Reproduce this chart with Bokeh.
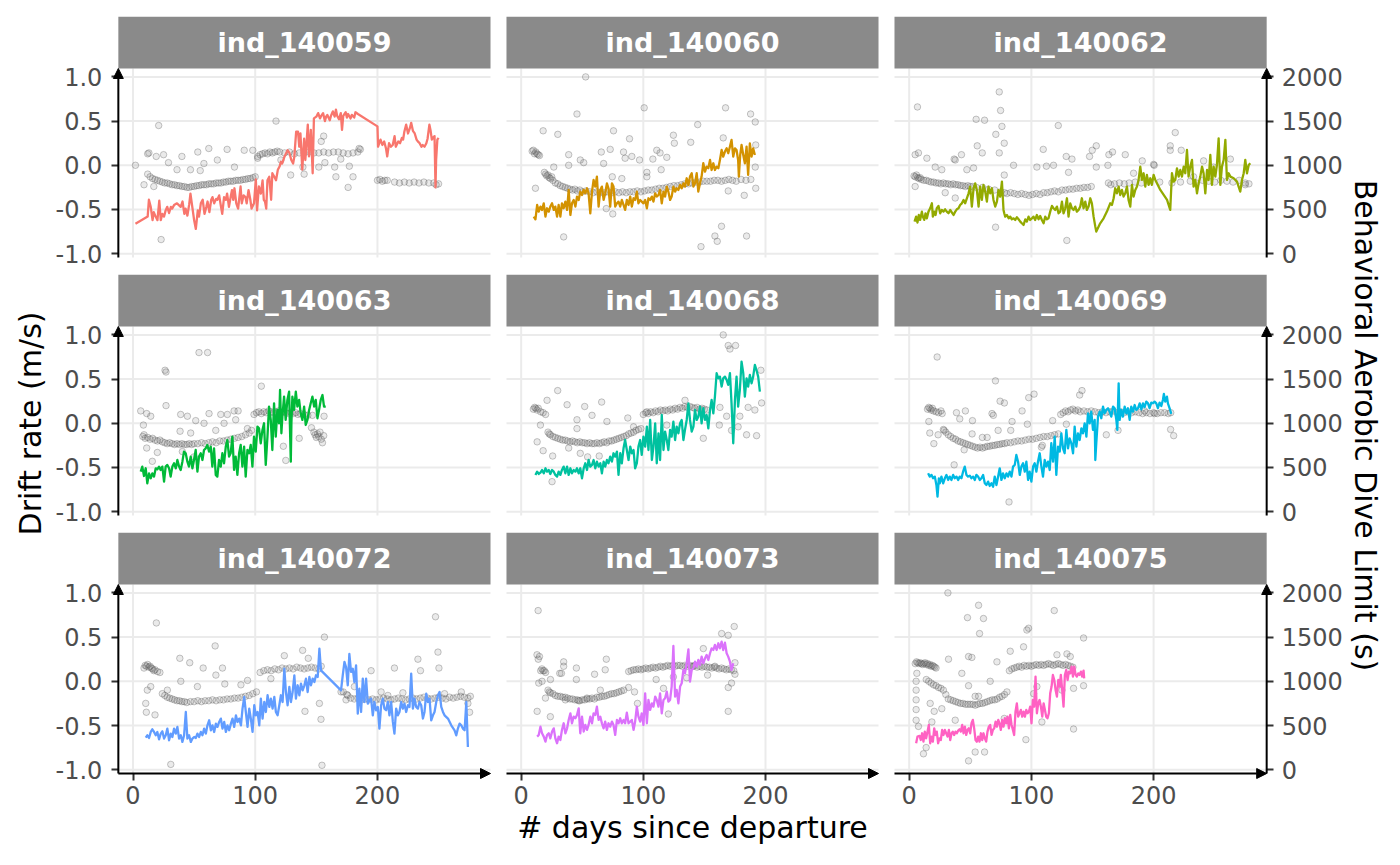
import math
from bokeh.plotting import figure
from bokeh.layouts import column, row
from bokeh.models import (Range1d, LinearAxis, FixedTicker, BoxAnnotation, Label,
                          Arrow, NormalHead, CustomJSTickFormatter)
from bokeh.embed import file_html
from bokeh.resources import INLINE

# ---------------- data ----------------
individuals = ["ind_140059", "ind_140060", "ind_140062",
               "ind_140063", "ind_140068", "ind_140069",
               "ind_140072", "ind_140073", "ind_140075"]
line_colors = ["#F8766D", "#D39200", "#93AA00", "#00BA38", "#00C19F",
               "#00B9E3", "#619CFF", "#DB72FB", "#FF61C3"]

x_ticks = [0, 100, 200]
drift_ticks = [-1.0, -0.5, 0.0, 0.5, 1.0]
badl_ticks = [0, 500, 1000, 1500, 2000]

# drift rate (m/s) points: (days since departure, drift rate)
p59_pts = [(12,-0.10),(14,-0.13),(16,-0.15),(18,-0.16),(20,-0.17),(22,-0.18),(24,-0.19),(26,-0.20),(28,-0.20),(30,-0.21),(32,-0.22),(34,-0.22),(36,-0.23),(38,-0.23),(40,-0.24),(42,-0.24),(44,-0.25),(46,-0.25),(48,-0.24),(50,-0.24),(52,-0.23),(54,-0.23),(56,-0.22),(58,-0.22),(60,-0.22),(62,-0.21),(64,-0.21),(66,-0.21),(68,-0.20),(70,-0.20),(72,-0.20),(74,-0.19),(76,-0.19),(78,-0.18),(80,-0.18),(82,-0.18),(84,-0.17),(86,-0.17),(88,-0.17),(90,-0.16),(92,-0.16),(94,-0.15),(96,-0.15),(98,-0.14),(100,-0.13),
           (102,0.10),(104,0.12),(106,0.13),(108,0.14),(110,0.13),(112,0.15),(114,0.14),(116,0.15),(118,0.16),(120,0.15),(124,0.14),(128,0.15),(132,0.13),(136,0.14),(140,0.14),(144,0.15),(148,0.14),(152,0.14),(156,0.15),(160,0.14),(164,0.15),(168,0.15),(172,0.14),(176,0.13),(180,0.14),(184,0.15),(186,0.18),
           (200,-0.17),(202,-0.16),(204,-0.18),(206,-0.17),(208,-0.17),(214,-0.19),(218,-0.20),(222,-0.19),(226,-0.20),(230,-0.19),(234,-0.20),(238,-0.19),(242,-0.20),(246,-0.20),(248,-0.22),(250,-0.21),
           (2,0.00),(12,0.13),(13,0.14),(21,0.45),(23,-0.84),(25,0.12),(29,0.03),(40,0.10),(53,0.15),(62,0.19),(77,0.18),(91,0.17),(98,0.17),(117,0.50),(121,0.06),(129,-0.11),(140,-0.10),(154,0.27),(156,0.33),(157,0.03),(165,-0.02),(166,-0.13),(176,-0.25),(177,-0.01),(180,-0.13),(185,0.19),(17,-0.24),(9,-0.22),(36,-0.05),(47,-0.05),(55,-0.06),(58,0.02),(69,0.06),(83,-0.02),(102,0.08),(139,-0.02),(152,-0.02),(170,0.07),(19,0.10)]

p60_pts = [(9,0.16),(10,0.17),(11,0.13),(12,0.15),(13,0.13),(14,0.12),(15,0.11),(19,-0.08),(20,-0.10),(21,-0.12),(22,-0.11),(23,-0.14),(24,-0.15),(25,-0.13),(26,-0.17),(28,-0.20),(30,-0.21),(32,-0.23),(34,-0.24),(36,-0.25),(38,-0.26),(40,-0.27),(42,-0.28),(44,-0.27),(46,-0.29),(48,-0.28),(50,-0.30),(53,-0.29),(56,-0.30),(59,-0.31),(62,-0.30),(65,-0.31),(68,-0.31),(71,-0.30),(74,-0.31),(77,-0.30),(80,-0.31),(83,-0.30),(86,-0.31),(89,-0.30),(92,-0.30),(95,-0.29),(98,-0.30),(101,-0.29),(104,-0.28),(107,-0.28),(110,-0.27),(113,-0.26),(116,-0.26),(119,-0.25),(122,-0.24),(125,-0.23),(128,-0.23),(131,-0.22),(134,-0.21),(137,-0.21),(140,-0.20),(143,-0.19),(146,-0.19),(149,-0.18),(152,-0.18),(155,-0.18),(158,-0.17),(161,-0.17),(164,-0.18),(167,-0.17),(170,-0.16),(173,-0.17),(176,-0.18),(180,-0.16),(184,-0.17),(188,-0.16),
           (52.8,1.00),(45.7,0.58),(100.7,0.65),(18,0.39),(30,0.35),(75.6,0.39),(88.7,0.30),(124.6,0.34),(125.4,0.25),(138.8,0.26),(144.5,0.46),(167.3,0.65),(187.8,0.58),(191.6,0.49),(165.4,0.31),(192,0.23),(191.6,-0.02),(192,-0.26),(182.6,-0.34),(169.5,-0.29),(164,-0.69),(158.6,-0.80),(160.5,-0.86),(147.2,-0.92),(184.5,-0.80),(34.8,-0.81),(11.7,-0.26),(26.7,-0.02),(38.9,0.12),(48.4,0.06),(65.6,0.15),(72.9,0.18),(83.8,0.15),(85.1,0.08),(90.6,0.10),(96.9,0.06),(102.9,-0.08),(102.9,-0.13),(107.8,0.07),(111,0.17),(113.7,0.14),(119.2,0.09),(114.6,-0.05),(74.6,-0.13),(82.4,-0.15),(69.7,-0.49),(75,-0.55),(38.9,0.00),(67.5,0.02),(51.2,0.03)]

p62_pts = [(4,-0.12),(5,-0.13),(6,-0.11),(7,-0.14),(8,-0.15),(9,-0.14),(10,-0.16),(12,-0.17),(14,-0.17),(16,-0.18),(18,-0.19),(20,-0.19),(22,-0.20),(24,-0.20),(26,-0.21),(28,-0.20),(30,-0.21),(32,-0.21),(34,-0.22),(36,-0.21),(38,-0.22),(40,-0.22),(42,-0.23),(44,-0.23),(46,-0.24),(48,-0.23),(50,-0.24),(52,-0.24),(55,-0.25),(60,-0.25),(65,-0.27),(70,-0.28),(75,-0.30),(78,-0.31),(80,-0.32),(83,-0.31),(86,-0.32),(89,-0.33),(92,-0.32),(95,-0.33),(98,-0.34),(101,-0.33),(104,-0.32),(107,-0.33),(110,-0.31),(113,-0.31),(116,-0.30),(119,-0.29),(122,-0.30),(125,-0.28),(128,-0.28),(131,-0.27),(134,-0.27),(137,-0.26),(140,-0.26),(143,-0.25),(146,-0.25),(149,-0.24),(163,-0.20),(165,-0.22),(168,-0.21),(172,-0.20),(176,-0.21),(180,-0.20),(185,-0.19),(190,-0.20),(196,-0.18),(205,-0.19),(215,-0.20),(222,-0.19),(230,-0.18),(235,-0.20),(240,-0.17),(245,-0.18),(250,-0.19),(255,-0.17),(260,-0.18),(265,-0.19),(270,-0.17),(275,-0.20),(278,-0.21),
           (6.8,0.66),(73.7,0.83),(74.8,0.62),(54.8,0.52),(61.7,0.51),(70.9,0.35),(75.9,0.44),(77.8,0.25),(73.7,0.14),(55.7,0.22),(59.8,0.14),(42.8,0.12),(36.8,0.07),(122,0.45),(109.7,0.18),(128.5,0.10),(133.2,0.07),(147.6,0.10),(149.8,0.17),(153.1,0.22),(153.1,-0.02),(163.4,0.12),(166.4,0.15),(176.8,0.12),(190.7,0.05),(200.5,0.00),(213.6,0.22),(217.7,0.37),(222.6,0.17),(213.6,0.17),(240.9,0.05),(262.8,0.07),(70.7,-0.70),(129,-0.85),(77.8,-0.11),(85.4,0.00),(104.5,-0.02),(112.3,-0.01),(118.1,0.00),(130.4,-0.08),(162.6,0.00),(183.6,-0.09),(200,0.01),(37.7,0.06),(4.9,-0.24),(4.9,0.12),(7.6,0.14),(14.5,0.08),(21.3,-0.02),(26.7,-0.05),(47.2,-0.05),(52.7,-0.03),(37.7,-0.37),(29.5,-0.31),(275,-0.22),(249,-0.02),(232.7,-0.13)]

p63_pts = [(8,-0.15),(9,-0.13),(10,-0.17),(12,-0.16),(14,-0.18),(16,-0.17),(18,-0.19),(20,-0.20),(22,-0.19),(24,-0.21),(26,-0.22),(28,-0.23),(30,-0.22),(32,-0.23),(34,-0.24),(36,-0.23),(38,-0.24),(40,-0.23),(42,-0.24),(44,-0.24),(46,-0.23),(48,-0.24),(50,-0.23),(53,-0.23),(56,-0.22),(59,-0.23),(62,-0.22),(65,-0.21),(68,-0.22),(71,-0.20),(74,-0.20),(77,-0.19),(80,-0.18),(83,-0.17),(86,-0.16),(89,-0.15),(92,-0.13),(95,-0.11),(97,-0.08),(99,0.10),(101,0.12),(103,0.13),(105,0.11),(107,0.13),(109,0.12),(111,0.14),(113,0.13),(115,0.12),(117,0.13),(119,0.14),(121,0.12),(123,0.13),(125,0.12),(127,0.11),(129,0.12),(131,0.11),(133,0.12),(135,0.10),(137,0.11),(140,0.10),(143,0.09),(146,-0.05),(148,-0.10),(149,-0.13),(150,-0.16),(151,-0.12),(152,-0.15),(153,-0.10),(154,-0.18),(155,-0.22),(156,-0.14),
           (54,0.80),(61,0.80),(26.2,0.60),(27,0.58),(27,0.20),(6.3,0.14),(11.2,0.11),(14.5,0.08),(39,0.10),(44.5,0.08),(62.2,0.11),(71.8,0.10),(77.2,0.10),(82.7,0.14),(86,0.14),(105,0.42),(8.5,-0.02),(19.9,-0.33),(15.8,-0.43),(11.2,-0.28),(51.3,0.03),(58.1,0.00),(67.7,-0.08),(74.5,0.00),(84,0.04),(93.6,-0.06),(38.5,-0.09),(47.2,-0.11),(123,-0.26),(125,-0.42),(136,-0.17),(156.3,0.08),(146.8,0.09),(40.4,-0.32),(49.9,-0.38)]

p68_pts = [(10,0.16),(11,0.18),(12,0.17),(13,0.15),(14,0.17),(16,0.13),(18,0.12),(20,0.10),(22,-0.10),(23,-0.12),(24,-0.13),(26,-0.15),(28,-0.16),(30,-0.17),(32,-0.18),(34,-0.19),(36,-0.19),(38,-0.20),(40,-0.21),(42,-0.20),(44,-0.21),(46,-0.22),(48,-0.21),(50,-0.22),(52,-0.22),(54,-0.23),(56,-0.22),(58,-0.23),(60,-0.23),(62,-0.22),(64,-0.23),(66,-0.22),(68,-0.21),(70,-0.22),(72,-0.20),(74,-0.20),(76,-0.19),(78,-0.18),(80,-0.17),(82,-0.16),(84,-0.15),(86,-0.14),(88,-0.12),(90,-0.11),(92,-0.10),(94,-0.08),(96,-0.07),(98,-0.06),(100,0.10),(102,0.12),(104,0.11),(106,0.13),(108,0.12),(110,0.14),(112,0.13),(114,0.15),(116,0.14),(118,0.15),(120,0.14),(122,0.16),(124,0.15),(126,0.17),(128,0.16),(130,0.18),(132,0.17),(134,0.19),(136,0.18),(138,0.19),(140,0.18),(142,0.17),(144,0.18),(146,0.16),(148,0.17),(150,0.16),(152,0.15),
           (165.4,1.00),(169.5,0.88),(170.9,0.84),(175.5,0.88),(196.2,0.60),(29.9,0.37),(21.2,0.26),(37.6,0.21),(52,0.19),(65.9,0.24),(58,0.09),(45.7,0.04),(15.8,-0.02),(13.1,-0.21),(18,-0.31),(25.3,-0.66),(25.8,-0.37),(48.4,-0.34),(54.4,-0.38),(63.9,-0.37),(38.9,-0.28),(45.7,-0.06),(70.2,0.02),(87.3,0.06),(92,-0.04),(102.9,0.13),(119.2,-0.02),(134.1,0.26),(149.1,-0.17),(162.2,-0.02),(168.2,0.08),(172.2,-0.08),(177.6,-0.04),(184.5,-0.13),(185.8,0.18),(192.7,-0.14),(196.8,0.23),(191.3,0.15),(179,0.08),(162.7,0.18)]

p69_pts = [(15,0.16),(16,0.18),(17,0.17),(18,0.15),(19,0.17),(20,0.14),(22,0.13),(24,0.12),(26,0.14),(27,0.11),(28,-0.07),(30,-0.10),(32,-0.13),(34,-0.15),(36,-0.17),(38,-0.18),(40,-0.20),(42,-0.21),(44,-0.22),(46,-0.23),(48,-0.24),(50,-0.25),(52,-0.26),(54,-0.27),(56,-0.28),(58,-0.27),(60,-0.28),(62,-0.27),(64,-0.26),(66,-0.26),(68,-0.25),(70,-0.25),(72,-0.24),(74,-0.24),(76,-0.23),(78,-0.23),(80,-0.22),(83,-0.22),(86,-0.21),(89,-0.20),(92,-0.20),(95,-0.19),(98,-0.18),(101,-0.18),(104,-0.17),(107,-0.16),(110,-0.15),(113,-0.15),(116,-0.14),(119,-0.13),(122,-0.12),(124,0.10),(126,0.12),(128,0.14),(130,0.13),(132,0.15),(134,0.16),(136,0.14),(138,0.15),(140,0.13),(143,0.14),(146,0.13),(149,0.14),(152,0.13),(155,0.12),(158,0.13),(161,0.12),(164,0.13),(167,0.14),(170,0.12),(173,0.13),(176,0.12),(179,0.13),(182,0.12),(185,0.13),(188,0.12),(191,0.11),(194,0.12),(197,0.11),(200,0.12),(203,0.11),(206,0.12),(209,0.12),(212,0.11),(214,0.12),
           (22.9,0.75),(70.6,0.48),(74.4,0.25),(77.9,0.23),(97.8,0.29),(102.2,0.33),(139.5,0.32),(141.4,0.37),(46,0.14),(38.7,0.12),(41.4,0.05),(51.8,0.03),(67.8,0.11),(68.9,0.09),(92.4,0.14),(84.2,0.02),(96.7,-0.01),(117.4,0.03),(128.6,-0.01),(16.1,0.02),(16.9,-0.11),(20.2,-0.23),(23.7,-0.13),(28.6,-0.08),(36.8,-0.47),(81.7,-0.89),(45,-0.30),(51.5,-0.12),(59.9,-0.16),(63.8,-0.16),(72.8,-0.08),(83.1,-0.08),(108.2,-0.27),(109,-0.25),(161.3,-0.13),(170.9,-0.08),(213.9,-0.07),(216.4,-0.14),(200.8,0.11),(192.6,0.14)]

p72_pts = [(9,0.15),(10,0.18),(11,0.17),(12,0.19),(13,0.16),(14,0.17),(15,0.15),(16,0.14),(17,0.12),(18,0.13),(20,0.11),(22,0.10),(24,-0.14),(26,-0.16),(28,-0.18),(30,-0.19),(32,-0.20),(34,-0.21),(36,-0.22),(38,-0.22),(40,-0.23),(42,-0.23),(44,-0.24),(47,-0.23),(50,-0.23),(53,-0.22),(56,-0.23),(59,-0.22),(62,-0.22),(65,-0.21),(68,-0.22),(71,-0.21),(74,-0.21),(77,-0.20),(80,-0.20),(83,-0.19),(86,-0.19),(89,-0.18),(92,-0.17),(95,-0.16),(98,-0.14),(101,-0.12),(104,0.10),(107,0.12),(110,0.13),(113,0.12),(116,0.14),(119,0.13),(122,0.15),(125,0.14),(128,0.15),(131,0.14),(134,0.16),(137,0.15),(140,0.14),(143,0.15),(146,0.16),(149,0.15),(152,0.14),(154,0.17),(172,-0.12),(175,-0.15),(178,-0.19),(181,-0.20),(184,-0.19),(187,-0.21),(190,-0.20),(193,-0.21),(196,-0.20),(199,-0.21),(202,-0.20),(205,-0.19),(208,-0.20),(211,-0.21),(214,-0.20),(217,-0.19),(220,-0.20),(223,-0.21),(226,-0.20),(229,-0.19),(232,-0.20),(235,-0.19),(238,-0.18),(241,-0.19),(244,-0.20),(247,-0.19),(250,-0.18),(253,-0.19),(256,-0.20),(259,-0.18),(262,-0.19),(265,-0.18),(268,-0.17),(271,-0.18),(274,-0.19),(276,-0.17),
           (19.1,0.66),(67.2,0.40),(38.3,0.26),(46.4,0.21),(57.4,0.15),(73.2,0.15),(67.8,0.07),(75.1,-0.03),(88.3,-0.04),(93.7,0.01),(112.8,0.03),(123.8,0.29),(138.8,0.35),(143.4,0.26),(156.6,0.50),(152.5,-0.25),(153.8,-0.43),(154.6,-0.95),(30.9,-0.94),(18,-0.38),(10.9,-0.35),(10.4,-0.25),(11.7,-0.10),(14.5,-0.06),(28.1,-0.10),(39.1,0.00),(52.7,-0.06),(140.7,-0.34),(170.2,-0.12),(174.3,-0.21),(175.7,-0.16),(181.1,-0.06),(194.8,0.12),(203,-0.12),(213.9,0.15),(220.8,-0.13),(233.1,0.25),(235.2,0.12),(247.5,0.73),(249.5,0.33),(250.3,0.15),(275.4,-0.35),(274,-0.25),(268.6,-0.12),(208.5,-0.16),(254.9,-0.14)]

p73_pts = [(13,0.30),(14,0.25),(15,0.28),(16,0.12),(17,0.14),(18,0.12),(19,0.12),(20,0.10),(22,-0.10),(23,-0.12),(24,-0.13),(26,-0.14),(28,-0.16),(30,-0.17),(32,-0.17),(34,-0.18),(36,-0.18),(38,-0.19),(40,-0.20),(42,-0.20),(44,-0.21),(46,-0.21),(48,-0.22),(50,-0.21),(52,-0.21),(54,-0.20),(56,-0.20),(58,-0.19),(60,-0.20),(62,-0.18),(64,-0.18),(66,-0.17),(68,-0.17),(70,-0.16),(72,-0.15),(74,-0.14),(76,-0.14),(78,-0.13),(80,-0.12),(82,-0.11),(84,-0.10),(88,0.11),(90,0.12),(92,0.13),(94,0.13),(96,0.14),(98,0.13),(100,0.14),(102,0.15),(104,0.14),(106,0.15),(108,0.16),(110,0.15),(112,0.16),(114,0.17),(116,0.16),(118,0.17),(120,0.18),(122,0.17),(124,0.18),(126,0.17),(128,0.18),(130,0.18),(132,0.17),(134,0.18),(136,0.17),(138,0.18),(140,0.17),(142,0.18),(144,0.16),(146,0.17),(148,0.16),(150,0.17),(152,0.16),(154,0.16),(156,0.15),(158,0.16),(160,0.15),(162,0.14),(164,0.15),(166,0.14),(168,0.13),(170,0.14),(172,0.13),(174,0.12),
           (13.9,0.80),(13.1,-0.34),(23.9,-0.40),(19.9,-0.19),(14.4,-0.02),(17.1,0.00),(24,0.02),(34.8,0.22),(34.8,0.17),(31.6,0.09),(33,0.09),(45.2,0.15),(45.2,0.02),(60.1,0.08),(69.7,0.25),(68.8,0.13),(36.2,-0.21),(47.1,-0.22),(53.9,-0.19),(64.8,-0.10),(87.9,-0.07),(92.8,-0.12),(95.2,-0.25),(110.5,0.02),(116.5,-0.08),(120.5,-0.37),(124.6,0.05),(135.5,0.04),(149.1,0.37),(152.6,0.07),(164.1,0.54),(169.5,0.52),(174.4,0.62),(175,0.21),(175,0.08),(172.2,-0.02),(169.5,-0.07),(169.5,-0.34),(158.6,0.17),(141,0.17)]

p75_pts = [(5,0.20),(6,0.22),(7,0.21),(8,0.20),(9,0.21),(10,0.20),(11,0.19),(12,0.20),(13,0.21),(14,0.19),(15,0.20),(16,0.18),(17,0.19),(18,0.17),(19,0.18),(20,0.17),(21,0.16),(22,0.15),(14,0.02),(16,0.00),(18,-0.02),(20,-0.04),(22,-0.05),(24,-0.07),(26,-0.08),(28,-0.10),(30,-0.15),(32,-0.20),(34,-0.21),(36,-0.22),(38,-0.23),(40,-0.24),(42,-0.25),(44,-0.25),(46,-0.26),(48,-0.26),(50,-0.26),(52,-0.26),(54,-0.27),(56,-0.26),(58,-0.25),(60,-0.25),(62,-0.24),(64,-0.23),(66,-0.22),(68,-0.21),(70,-0.21),(72,-0.20),(74,-0.18),(76,-0.17),(78,-0.15),(80,-0.12),(82,0.12),(84,0.14),(86,0.15),(88,0.16),(90,0.17),(92,0.16),(94,0.18),(96,0.17),(98,0.18),(100,0.17),(102,0.18),(104,0.19),(106,0.18),(108,0.19),(110,0.18),(112,0.19),(114,0.20),(116,0.19),(118,0.18),(120,0.19),(122,0.20),(124,0.19),(126,0.18),(128,0.19),(130,0.18),(132,0.17),(134,0.16),
           (31.7,1.00),(56.8,0.86),(47.7,0.72),(60.8,0.71),(57.6,0.54),(118.7,0.80),(96.3,0.58),(97.7,0.60),(142.7,0.49),(82.7,0.34),(93.6,0.39),(32.2,0.25),(51.3,0.27),(48.6,0.28),(71.8,0.22),(129.1,0.31),(131.8,0.28),(120.9,0.30),(6.3,0.09),(5.7,0.00),(5.7,-0.10),(5.7,-0.21),(5.7,-0.32),(5.7,-0.44),(7.6,-0.51),(11.7,-0.82),(13.9,-0.75),(18.6,-0.46),(20.5,-0.34),(17.2,-0.25),(26.7,-0.31),(37.7,-0.44),(48.6,-0.90),(54,-0.80),(61.7,-0.80),(95.5,-0.66),(134.5,-0.54),(108.6,-0.46),(54,-0.17),(56.8,-0.17),(77.8,-0.42),(104.5,-0.06),(101.8,-0.14),(125,-0.10),(134.5,-0.08),(142.7,-0.05),(48.6,-0.05),(66.3,0.00),(43.1,0.09)]

# behavioral aerobic dive limit (s): (days since departure, BADL)
p59_line = [(2,340),(12,420),(13,610),(14.5,530),(16,380),(17,470),(18.5,420),(20,380),(21.5,600),(22.7,380),(24,450),(25.4,420),(26.7,490),(28,530),(29.5,460),(31,530),(32,510),(33.6,550),(36,570),(39,530),(40.5,590),(42,450),(43,510),(44.5,430),(46,560),(47,680),(48.5,530),(50,380),(51.4,280),(53,490),(54,420),(55.5,570),(57,610),(58.5,450),(60,530),(61,590),(62.5,470),(64,610),(65,640),(66.4,570),(68,620),(69,610),(70.5,660),(72,530),(73,450),(74.5,640),(76,610),(77,680),(78.5,530),(80,650),(81,720),(82,610),(83,740),(84.5,570),(86,510),(88,760),(89,570),(90.5,660),(92,640),(93,570),(94.5,720),(96,610),(97,510),(99,570),(100.5,840),(101.5,490),(103,760),(104.6,680),(106,830),(107,610),(108,590),(109,510),(110,830),(111.5,870),(113,610),(114,910),(115.6,870),(117,830),(118.5,950),(120,990),(121,1040),(122,1020),(124,1100),(126.5,1170),(128,1140),(129.5,1060),(131,1020),(132,1100),(133.5,1380),(135,1380),(136,1210),(137,1360),(138.5,950),(140,1300),(141,1060),(143,1460),(144,1100),(145.5,1400),(147,910),(148,1530),(150,1550),(151.5,1590),(153,1530),(154,1560),(155.5,1590),(157,1500),(158,1550),(159,1570),(161,1510),(162,1560),(163.5,1610),(165,1550),(166,1630),(167,1560),(168.5,1520),(170,1590),(171,1400),(172,1560),(174,1600),(175,1540),(176,1580),(178,1530),(179,1570),(181,1540),(182,1600),(184,1580),(200,1440),(200.5,1210),(202.5,1290),(204,1230),(205.5,1270),(207,1190),(208,1100),(209.5,1250),(211,1210),(212.5,1230),(214,1330),(215,1210),(217,1270),(218.5,1250),(220,1310),(221,1290),(222,1380),(223.5,1460),(225,1360),(226.5,1420),(227.6,1480),(229,1390),(230.5,1360),(232,1290),(233,1270),(234.5,1250),(236,1210),(237,1230),(238.5,1210),(240,1250),(241,1300),(242.5,1460),(243.5,1390),(244.5,1290),(246,1320),(246.7,1330),(247.5,750),(248,1060),(249,1290),(250,1310)]

p60_line = [(10.3,420),(11.7,389),(13.1,551),(14.4,476),(15.8,533),(17.1,495),(18.5,570),(19.9,419),(21.2,514),(22.6,476),(23.9,533),(25.3,570),(26.7,495),(28,533),(29.4,419),(30.7,551),(32.1,419),(33.4,570),(34.8,514),(36.2,589),(37.6,495),(38.9,721),(40.3,438),(41.6,570),(43,608),(44.4,533),(45.7,646),(47.1,608),(48.4,702),(49.8,664),(51.2,721),(52.5,683),(53.9,740),(55.2,683),(56.6,457),(58,702),(59.3,834),(60.7,759),(62,872),(63.4,533),(64.8,721),(66.1,759),(67.5,608),(68.8,683),(70.2,796),(71.5,740),(72.9,533),(74.3,796),(75.6,759),(77,533),(78.4,570),(79.7,589),(81.1,533),(82.4,608),(83.8,551),(85.1,495),(86.5,608),(87.9,551),(89.3,646),(90.6,533),(92,627),(93.3,608),(94.7,702),(96,570),(97.4,608),(98.7,589),(100.1,570),(101.5,608),(102.9,514),(104.2,627),(105.6,608),(107,646),(108.3,589),(109.7,683),(111,646),(112.4,664),(113.7,721),(115.1,570),(116.5,702),(117.8,646),(119.2,759),(120.5,702),(121.9,608),(123.2,646),(124.6,759),(126,702),(127.3,740),(128.7,721),(130.1,778),(131.4,740),(132.8,796),(134.1,759),(135.5,853),(136.9,778),(138.2,872),(139.6,910),(141,759),(142.3,796),(143.7,910),(145,702),(146.4,796),(147.7,872),(149.1,1023),(150.5,928),(151.8,985),(153.2,966),(154.6,1060),(155.9,947),(157.3,1023),(158.6,947),(160,985),(161.4,966),(162.7,1060),(164.1,1173),(165.4,1098),(166.8,1155),(168.2,1192),(169.5,1136),(170.9,1211),(172.2,1287),(173.6,1098),(175,1192),(176.3,1173),(177.6,1060),(178.2,872),(179.3,1117),(180.4,1230),(181.8,1117),(183.1,1023),(184.5,1211),(185.8,891),(187.2,1249),(188.6,1098),(189.9,1192),(191.3,1117)]

p62_line = [(4.4,363),(5.7,419),(6.8,352),(7.9,438),(9,382),(10.4,476),(11.2,419),(12.3,382),(13.4,457),(14.5,400),(15.8,476),(17.2,514),(18.6,570),(19.4,419),(20.5,476),(21.6,438),(22.6,514),(24,540),(25.4,457),(26.7,495),(28.1,476),(29.4,502),(30.8,476),(32.2,457),(33.6,495),(35,465),(36.3,438),(37.7,476),(39,502),(40.4,514),(41.7,551),(43.1,570),(44.5,608),(45.8,570),(47.2,627),(48.6,683),(49.9,759),(51.3,533),(52.7,740),(54,796),(55.4,721),(56.8,533),(58.1,759),(59.5,608),(60.8,778),(62.2,702),(63.6,589),(64.9,759),(66.3,683),(67.7,740),(69,608),(70.4,533),(71.8,589),(73.1,721),(74.5,646),(75.9,815),(77.2,495),(77.8,457),(78.6,419),(80,438),(81.4,400),(82.7,419),(84,389),(85.4,400),(86.8,382),(88.1,412),(89.5,389),(90.9,363),(92.2,344),(93.6,325),(95,389),(96.3,363),(97.7,419),(99,382),(100.4,400),(101.8,419),(103.1,382),(104.5,438),(105.9,389),(107.2,427),(108.6,382),(110,344),(111.3,419),(112.7,389),(114,400),(115.4,476),(116.8,540),(118.1,514),(119.5,495),(120.9,533),(122.2,457),(123.6,476),(125,589),(126.3,457),(127.7,514),(129.1,627),(130.4,419),(131.8,570),(133.2,514),(134.5,495),(135.9,533),(137.2,476),(138.6,495),(140,533),(141.3,627),(142.7,514),(144.1,589),(145.4,495),(146.8,533),(148.2,627),(149.5,570),(150.9,419),(152.3,306),(153.1,250),(156.3,344),(159.1,400),(161.8,476),(164.5,570),(165.9,551),(167.3,627),(168.6,740),(170,683),(171.4,759),(172.7,664),(174.1,721),(175.4,646),(176.8,683),(178.2,759),(179.5,608),(180.9,533),(182.3,778),(183.6,646),(185,721),(186.4,759),(187.7,834),(189.1,985),(190.4,834),(191.8,910),(193.2,759),(194.5,891),(195.9,778),(197.3,853),(198.6,778),(200,891),(201.4,834),(205.5,721),(211,608),(213.6,495),(215,910),(216.4,815),(217.7,834),(219.1,966),(220.5,872),(221.8,947),(223.2,872),(224.6,985),(225.9,910),(227.3,1173),(228.6,872),(230,985),(231.4,1060),(232.7,759),(234.1,834),(235.5,683),(236.8,796),(238.2,872),(239.6,985),(240.9,910),(242.3,683),(243.7,947),(245,834),(246.4,1117),(247.7,778),(249.1,985),(250.5,872),(251.8,1004),(253.2,1305),(254.6,778),(255.9,985),(257.3,1060),(258.7,1287),(260,834),(261.4,910),(262.8,872),(265.5,853),(268.2,815),(270.9,702),(272.3,834),(273.7,910),(275,1060),(276.4,910),(277.8,1004),(279.1,1023)]

p63_line = [(6.3,453),(7.6,510),(9,404),(10.4,491),(11.7,321),(13.1,434),(14.5,378),(15.8,434),(17.2,397),(18.6,491),(19.9,480),(21.3,510),(22.6,472),(24,510),(25.4,340),(26.7,510),(28.1,529),(29.5,491),(30.8,397),(32.2,510),(33.6,548),(35,491),(36.3,585),(37.7,510),(39,472),(40.4,566),(41.7,680),(43.1,661),(44.5,566),(45.8,510),(47.2,623),(48.6,491),(49.9,585),(51.3,698),(52.7,453),(54,623),(55.4,661),(56.8,585),(58.1,698),(59.5,717),(60.8,755),(62.2,680),(63.6,736),(64.9,510),(66.3,717),(67.7,416),(69,397),(70.4,585),(71.8,510),(73.1,661),(74.5,548),(75.9,736),(77.2,811),(78.6,623),(79.9,661),(81.3,849),(82.7,472),(84,623),(85.4,416),(86.8,661),(88.1,755),(89.5,510),(90.9,736),(92.2,397),(93.6,698),(95,661),(96.3,755),(97.7,510),(99,849),(100.4,680),(101.8,962),(103.1,943),(104.5,774),(105.9,925),(107.2,1000),(108.6,529),(110,849),(111.3,1189),(112.7,1038),(114,698),(115.4,1226),(116.8,849),(118.1,1151),(119.5,1000),(120.3,1377),(121.4,887),(122.2,1075),(123.6,1302),(124.9,1038),(126.3,1264),(127.7,1358),(129.1,566),(129.6,1000),(130.4,1302),(131.8,1151),(133.2,1358),(134.5,1189),(135.9,1264),(137.2,1113),(138.6,1038),(140,1189),(141.3,981),(142.7,1038),(144.1,1151),(145.4,1226),(146.8,1302),(148.2,1189),(149.5,1264),(150.9,1057),(152.2,1151),(153.6,1264),(155,1320),(156.3,1189),(157.7,1189)]

p68_line = [(11.7,416),(13.1,453),(14.4,427),(15.8,442),(17.1,472),(18.5,434),(19.9,491),(21.2,453),(22.6,472),(23.9,427),(25.3,472),(26.7,453),(28,416),(29.4,397),(30.7,453),(32.1,416),(33.4,472),(34.8,510),(36.2,434),(37.6,510),(38.9,416),(40.3,491),(41.6,434),(43,472),(44.4,453),(45.7,491),(47.1,434),(48.4,491),(49.8,378),(51.2,491),(52.5,548),(53.9,472),(55.2,585),(56.6,510),(58,529),(59.3,585),(60.7,491),(62,566),(63.4,510),(64.8,548),(66.1,434),(67.5,566),(68.8,510),(70.2,585),(71.5,548),(72.9,623),(74.3,566),(75.6,661),(77,623),(78.4,680),(79.7,416),(81.1,661),(82.4,548),(83.8,717),(85.1,811),(86.5,698),(87.9,585),(89.3,736),(90.6,661),(92,698),(93.3,491),(94.7,548),(96,736),(97.4,811),(98.7,642),(100.1,849),(101.5,736),(102.9,962),(104.2,698),(105.6,1038),(107,585),(108.3,736),(109.7,1000),(111,548),(112.4,887),(113.7,585),(115.1,1094),(116.5,698),(117.8,906),(119.2,811),(120.5,698),(121.9,925),(123.2,849),(124.6,1019),(126,811),(127.3,962),(128.7,887),(130.1,1000),(131.4,1038),(132.8,811),(134.1,925),(135.5,1038),(136.9,1226),(138.2,1038),(139.6,906),(141,962),(142.3,1151),(143.7,1038),(145,1075),(146.4,1189),(147.7,1000),(149.1,1170),(150.5,1038),(151.8,1094),(153.2,943),(154.6,1151),(155.9,1264),(157.3,1113),(158.6,1302),(160,1566),(161.4,1509),(162.7,1528),(164.1,1415),(165.4,1509),(166.8,1528),(168.2,1490),(169.5,1434),(170.9,1566),(172.2,1226),(173.6,774),(175,1264),(176.3,1528),(177.6,1189),(179,1377),(180.4,1697),(181.8,1566),(183.1,1302),(184.5,1509),(185.8,1415),(187.2,1547),(188.6,1452),(189.9,1528),(191.3,1660),(192.6,1603),(194,1528),(195.4,1358)]

p69_line = [(15.5,434),(16.9,397),(18.3,416),(19.6,378),(21,397),(22.3,302),(23.2,170),(24.3,378),(25.1,321),(26.4,397),(27.8,321),(29.2,378),(30.5,416),(31.9,359),(33.2,397),(34.6,359),(36,416),(37.3,378),(38.7,397),(40.1,359),(41.4,397),(42.8,378),(44.1,453),(45.5,510),(46.9,416),(48.2,397),(49.6,408),(50.9,378),(52.3,397),(53.7,359),(55,416),(56.4,397),(57.8,359),(59.1,378),(60.5,416),(61.9,321),(63.2,302),(64.6,340),(65.9,291),(67.3,321),(68.7,283),(70,397),(71.4,302),(72.8,397),(74.1,491),(75.5,359),(76.8,434),(78.2,378),(79.6,434),(80.9,397),(82.3,453),(83.7,397),(85,510),(86.4,529),(87.7,642),(89.1,566),(90.5,416),(91.8,510),(93.2,548),(94.6,453),(95.9,566),(97.3,359),(98.6,453),(100,340),(101.4,510),(102.7,548),(104.1,453),(105.4,566),(106.8,661),(108.2,510),(109.5,397),(110.9,585),(112.3,510),(113.6,566),(115,472),(116.3,774),(117.7,566),(119.1,849),(120.4,416),(121.8,736),(123.2,680),(124.5,887),(125.9,717),(127.2,661),(128.6,925),(130,717),(131.3,830),(132.7,774),(134.1,661),(135.4,962),(136.8,736),(138.1,887),(139.5,811),(140.9,943),(142.2,887),(143.6,1000),(145,849),(146.3,1113),(147.7,1000),(149,1132),(150.4,925),(151.8,1038),(152.3,585),(153.1,774),(154.5,1075),(155.9,1132),(157.2,1057),(158.6,1189),(159.9,1113),(161.3,1151),(162.7,1170),(164,1132),(165.4,1075),(166.8,1189),(168.1,1170),(169.5,1038),(170.3,925),(171.4,1452),(172.2,1038),(173.6,1151),(174.9,1075),(176.3,1189),(177.7,1113),(179,1170),(180.4,1038),(181.7,1189),(183.1,1132),(184.5,1207),(185.8,1151),(187.2,1170),(188.6,1226),(189.9,1158),(191.3,1226),(192.6,1181),(194,1245),(195.4,1226),(196.7,1170),(198.1,1234),(199.5,1226),(200.8,1245),(202.2,1226),(203.5,1170),(204.9,1234),(206.3,1196),(207.6,1264),(208.4,1332),(209.5,1245),(210.9,1302),(211.7,1226),(213.1,1170),(214.4,1106)]

p72_line = [(10.4,362),(11.7,389),(13.1,359),(14.5,427),(15.8,457),(17.2,427),(18.6,389),(19.9,427),(21.3,344),(22.7,408),(24,434),(25.4,352),(26.8,389),(28.1,465),(29.5,333),(30.9,408),(32.2,370),(33.6,465),(35,408),(36.3,484),(37.7,352),(39.1,389),(40.4,314),(41.8,389),(43.2,653),(44.5,352),(45.9,389),(47.3,314),(48.6,352),(50,370),(51.4,359),(52.7,408),(54.1,370),(55.5,427),(56.8,389),(58.2,465),(59.6,408),(60.9,502),(62.3,559),(63.7,446),(65,502),(66.4,427),(67.8,521),(69.1,484),(70.5,540),(71.9,578),(73.2,465),(74.6,540),(76,427),(77.3,502),(78.7,446),(80.1,521),(81.4,578),(82.8,484),(84.2,615),(85.5,540),(86.9,578),(88.3,502),(89.6,691),(91,823),(92.3,653),(93.7,484),(95.1,691),(96.4,578),(97.8,427),(99.2,729),(100.5,615),(101.9,653),(103.3,502),(104.6,804),(106,578),(107.4,766),(108.7,653),(110.1,842),(111.5,710),(112.8,804),(114.2,691),(115.6,823),(116.9,653),(118.3,615),(119.7,729),(121,842),(122.4,766),(123.8,1143),(125.1,879),(126.5,729),(127.9,936),(129.2,766),(130.6,879),(132,1068),(133.3,804),(134.7,955),(136.1,842),(137.4,974),(138.8,898),(140.2,955),(141.5,1030),(142.9,879),(144.3,1049),(145.6,955),(147,1030),(148.4,992),(149.7,1068),(151.1,1049),(152.5,1369),(153.8,1124),(170.2,898),(171.6,1068),(173,1219),(174.3,1162),(175.7,955),(177,1309),(178.4,1106),(179.8,1143),(181.1,992),(182.5,1181),(183.9,634),(185.2,917),(186.6,653),(188,1030),(189.3,766),(190.7,1030),(192.1,747),(193.4,785),(194.8,804),(196.2,615),(197.5,766),(198.9,672),(200.3,710),(201.6,465),(203,729),(204.4,804),(205.7,691),(207.1,672),(208.5,766),(209.8,615),(211.2,766),(212.6,540),(213.9,408),(215.3,691),(216.7,615),(218,653),(219.4,766),(220.8,691),(222.1,747),(223.5,653),(224.9,729),(226.2,710),(227.6,1087),(229,691),(230.3,804),(231.7,710),(233.1,691),(234.4,766),(235.8,729),(237.2,578),(238.5,653),(239.9,861),(241.3,766),(242.6,804),(244,559),(245.4,615),(246.7,653),(248.1,766),(249.5,842),(250.8,879),(252.2,710),(253.6,653),(254.9,615),(257.7,578),(260.4,502),(263.1,446),(264.5,389),(265.8,465),(267.2,521),(268.6,502),(269.9,465),(271.3,446),(272.7,766),(274,257)]

p73_line = [(13.1,374),(14.4,393),(15.8,487),(17.1,412),(18.5,374),(19.9,317),(21.2,393),(22.6,412),(23.9,355),(25.3,431),(26.7,468),(28,355),(29.4,299),(30.7,374),(32.1,336),(33.4,450),(34.8,525),(36.2,412),(37.6,468),(38.9,563),(40.3,638),(41.6,525),(43,600),(44.4,582),(45.7,619),(47.1,694),(48.4,412),(49.8,600),(51.2,431),(52.5,506),(53.9,450),(55.2,506),(56.6,600),(58,525),(59.3,638),(60.7,619),(62,713),(63.4,563),(64.8,600),(66.1,525),(67.5,468),(68.8,544),(70.2,450),(71.5,525),(72.9,487),(74.3,544),(75.6,506),(77,393),(78.4,563),(79.7,525),(81.1,582),(82.4,525),(83.8,563),(85.1,525),(86.5,646),(87.9,525),(89.3,544),(90.6,563),(92,450),(93.3,544),(94.7,713),(96,600),(97.4,544),(98.7,638),(100.1,506),(101.5,864),(102.9,525),(104.2,789),(105.6,676),(107,751),(108.3,713),(109.7,827),(111,789),(112.4,713),(113.7,864),(115.1,638),(116.5,789),(117.8,808),(119.2,883),(120.5,770),(121.9,789),(123.2,940),(124.6,1400),(126,827),(127.3,902),(128.7,751),(130.1,940),(131.4,977),(132.8,1128),(134.1,1090),(135.5,1204),(136.9,1362),(138.2,996),(139.6,1128),(141,1147),(142.3,1222),(143.7,1166),(145,1241),(146.4,1185),(147.7,1279),(149.1,1204),(150.5,1260),(151.8,1298),(153.2,1241),(154.6,1317),(155.9,1373),(157.3,1354),(158.6,1411),(160,1354),(161.4,1430),(162.7,1373),(164.1,1449),(165.4,1354),(166.8,1437),(168.2,1317),(169.5,1279),(170.9,1222),(172.2,1128),(173.6,1204)]

p75_line = [(5.7,299),(6.8,374),(8.5,382),(9.5,336),(10.6,412),(11.7,317),(12.8,431),(13.9,355),(15,431),(16.1,506),(17.2,299),(18.3,374),(19.4,317),(20.5,468),(21.6,393),(22.6,431),(23.7,299),(24.8,355),(25.9,336),(27,450),(28.1,393),(29.2,450),(30.3,412),(31.4,374),(32.5,450),(33.6,336),(34.7,412),(35.7,431),(36.8,393),(37.9,431),(39,412),(40.1,442),(41.2,457),(42.3,431),(43.4,506),(44.5,412),(45.6,487),(46.7,393),(47.7,450),(48.8,468),(49.9,412),(51,525),(52.1,563),(53.2,468),(54.3,336),(55.4,317),(56.5,374),(57.6,317),(58.7,412),(59.8,336),(60.8,412),(61.9,355),(63,317),(64.1,431),(65.2,487),(66.3,506),(67.4,393),(68.5,450),(69.6,468),(70.7,544),(71.8,487),(72.9,563),(73.9,525),(75,450),(76.1,563),(77.2,487),(78.3,582),(79.4,525),(80.5,600),(81.6,468),(82.7,619),(83.8,506),(84.9,450),(85.9,393),(87,657),(88.1,751),(89.2,600),(90.3,638),(91.4,676),(92.5,600),(93.6,657),(94.7,600),(95.8,676),(96.9,638),(98,657),(99,713),(100.1,525),(101.2,789),(102.3,713),(103.4,1053),(104.5,638),(105.6,751),(106.7,789),(107.8,713),(108.9,600),(110,751),(111.1,676),(112.1,600),(113.2,582),(114.3,638),(115.4,864),(116.5,940),(117.6,1072),(118.7,1015),(119.8,902),(120.9,827),(122,1015),(123.1,940),(124.1,1072),(125.2,902),(126.3,713),(127.4,1072),(128.5,1128),(129.6,1015),(130.7,1109),(131.8,1090),(132.9,1166),(134,1053),(135.1,1166),(136.2,1072),(137.2,1053),(138.3,1090),(139.4,1072),(140.5,1109),(141.6,1053),(142.7,1121),(143.2,1034)]

all_points = [p59_pts, p60_pts, p62_pts, p63_pts, p68_pts, p69_pts, p72_pts, p73_pts, p75_pts]
all_lines = [p59_line, p60_line, p62_line, p63_line, p68_line, p69_line, p72_line, p73_line, p75_line]

# ---------------- layout / style ----------------
FONT = "DejaVu Sans"
XS = 1.225                     # px per day
YS = 88.42                     # px per drift unit
X0, X1 = -12.0, 292.5          # panel x extent (days)
Y0, STRIP, Y1 = -1.043, 1.095, 1.683   # panel bottom, strip bottom, strip top
PANEL_W, PANEL_H = 372, 241    # panel + strip size in px

LEFT_W, RIGHT_W = 48, 50
PAD_L = [70, 6, 6]
PAD_R = [6, 6, 78]
GAP_L = [0, 4, 4]
PAD_B = [15, 15, 84]
TOP_B = [16, 0, 0]
BOT_B = [2, 2, 0]
GRID_H = sum(TOP_B) + sum(BOT_B) + 3 * PANEL_H + sum(PAD_B)

def to_badl(v):
    return (v + 1.0) * 1000.0

def style_axis(ax):
    ax.axis_line_color = None
    ax.major_tick_line_color = "#333333"
    ax.major_tick_line_width = 2
    ax.major_tick_out = 7
    ax.major_tick_in = 0
    ax.minor_tick_line_color = None
    ax.major_label_text_font_size = "24px"
    ax.major_label_text_color = "#4D4D4D"
    ax.major_label_text_font = FONT

def arrow(x0, y0, x1, y1):
    return Arrow(end=NormalHead(size=10, fill_color="black", line_color="black", line_width=1),
                 x_start=x0, y_start=y0, x_end=x1, y_end=y1,
                 line_color="black", line_width=2)

def blank(w, h):
    p = figure(width=w, height=h, x_range=Range1d(0, w), y_range=Range1d(0, h),
               x_axis_location=None, y_axis_location=None, toolbar_location=None,
               output_backend="svg", min_border=0, outline_line_color=None,
               background_fill_color="white", border_fill_color="white")
    p.grid.visible = False
    return p

figs = []
for i, (name, col, pts, line) in enumerate(zip(individuals, line_colors, all_points, all_lines)):
    r, c = divmod(i, 3)
    xr0 = X0 - PAD_L[c] / XS
    xr1 = X1 + PAD_R[c] / XS
    yr0 = Y0 - PAD_B[r] / YS
    p = figure(frame_width=PANEL_W + PAD_L[c] + PAD_R[c], frame_height=PANEL_H + PAD_B[r],
               x_range=Range1d(xr0, xr1), y_range=Range1d(yr0, Y1),
               x_axis_location=None, y_axis_location=None,
               toolbar_location=None, output_backend="svg",
               min_border_left=GAP_L[c], min_border_right=0,
               min_border_top=TOP_B[r], min_border_bottom=BOT_B[r],
               background_fill_color="white", border_fill_color="white",
               outline_line_color=None)
    p.extra_y_ranges = {"badl": Range1d(to_badl(yr0), to_badl(Y1))}
    p.grid.visible = False

    # panel grid lines (limited to the panel area)
    p.segment(x0=[X0] * len(drift_ticks), x1=[X1] * len(drift_ticks), y0=drift_ticks, y1=drift_ticks,
              line_color="#EBEBEB", line_width=2)
    p.segment(x0=x_ticks, x1=x_ticks, y0=[Y0] * len(x_ticks), y1=[STRIP] * len(x_ticks),
              line_color="#EBEBEB", line_width=2)

    p.scatter([a for a, b in pts], [b for a, b in pts], marker="circle", size=6.5,
              fill_color="#555555", fill_alpha=0.12,
              line_color="#555555", line_alpha=0.33, line_width=1)
    p.line([a for a, b in line], [b for a, b in line], y_range_name="badl",
           line_color=col, line_width=2.3, line_join="round")

    # facet strip
    p.add_layout(BoxAnnotation(left=X0, right=X1, bottom=STRIP, top=Y1,
                               fill_color="#8A8A8A", fill_alpha=1.0, line_color=None))
    p.add_layout(Label(x=(X0 + X1) / 2, y=(STRIP + Y1) / 2, text=name,
                       text_align="center", text_baseline="middle",
                       text_color="white", text_font_style="bold",
                       text_font_size="27px", text_font=FONT))

    if c == 0:
        ax = LinearAxis(ticker=FixedTicker(ticks=drift_ticks), fixed_location=X0,
                        formatter=CustomJSTickFormatter(code="return tick.toFixed(1);"))
        style_axis(ax)
        ax.major_label_standoff = 9
        p.add_layout(ax, "left")
        p.add_layout(arrow(X0, Y0, X0, STRIP))
    if c == 2:
        ax = LinearAxis(y_range_name="badl", ticker=FixedTicker(ticks=badl_ticks), fixed_location=X1)
        style_axis(ax)
        ax.major_label_standoff = 8
        p.add_layout(ax, "right")
        p.add_layout(arrow(X1, Y0, X1, STRIP))
    if r == 2:
        ax = LinearAxis(ticker=FixedTicker(ticks=x_ticks), fixed_location=Y0)
        style_axis(ax)
        ax.major_label_standoff = 5
        p.add_layout(ax, "below")
        p.add_layout(arrow(X0, Y0, X1, Y0))
        if c == 1:
            p.add_layout(Label(x=(X0 + X1) / 2, y=Y0 - 54 / YS, text="# days since departure",
                               text_align="center", text_baseline="middle",
                               text_font_size="30px", text_font=FONT, text_color="black"))
    figs.append(p)

# vertical axis titles, each in its own narrow figure
left_title = blank(LEFT_W, GRID_H)
left_title.add_layout(Label(x=30, y=GRID_H - 423, text="Drift rate (m/s)",
                            angle=math.pi / 2, text_align="center", text_baseline="middle",
                            text_font_size="30px", text_font=FONT, text_color="black"))
right_title = blank(RIGHT_W, GRID_H)
right_title.add_layout(Label(x=21, y=GRID_H - 425, text="Behavioral Aerobic Dive Limit (s)",
                             angle=-math.pi / 2, text_align="center", text_baseline="middle",
                             text_font_size="30px", text_font=FONT, text_color="black"))

grid = column(row(figs[0], figs[1], figs[2]),
              row(figs[3], figs[4], figs[5]),
              row(figs[6], figs[7], figs[8]))
layout = row(left_title, grid, right_title)

open("out.html", "w").write(file_html(layout, INLINE))
